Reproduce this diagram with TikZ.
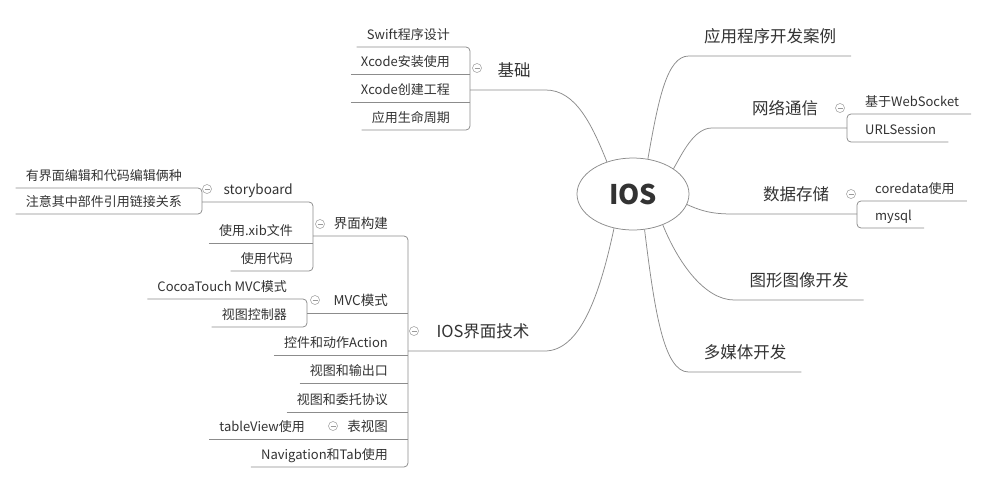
\documentclass[tikz,border=0pt]{standalone}
\usepackage{fontspec}
\setmainfont{Noto Sans CJK SC}
\usetikzlibrary{shapes.geometric}
\definecolor{txc}{HTML}{333333}
\definecolor{lnc}{HTML}{8C8C8C}
\definecolor{fdc}{HTML}{9A9A9A}
\tikzset{
  conn/.style={draw=lnc,line width=0.75pt},
  br/.style={conn,rounded corners=4pt},
  mtopic/.style={font=\fontsize{16.5}{18}\selectfont,text=txc,anchor=south,inner xsep=15pt,inner ysep=13pt,text height=12pt,text depth=0pt},
  lleaf/.style={font=\fontsize{13}{15}\selectfont,text=txc,anchor=south east,inner xsep=10pt,inner ysep=7pt,text height=9.5pt,text depth=0pt},
  mleaf/.style={lleaf,font=\fontsize{13.5}{15}\selectfont},
  rleaf/.style={lleaf,anchor=south west,inner xsep=12pt},
  fold/.style={circle,draw=fdc,line width=0.5pt,minimum size=9pt,inner sep=0pt,path picture={\draw[fdc,line width=0.5pt]([xshift=-2.5pt]path picture bounding box.center)--([xshift=2.5pt]path picture bounding box.center);}},
}
\begin{document}
\begin{tikzpicture}[x=1pt,y=-1pt]
\useasboundingbox[fill=white](0,0)rectangle(989,483);
\node[ellipse,draw=lnc,line width=0.75pt,minimum width=112pt,minimum height=72pt,inner sep=0pt,text=txc,font=\fontsize{27}{30}\selectfont\bfseries](ios)at(633,194){IOS};
\node[mtopic](app)at(770,56){应用程序开发案例};
\node[mtopic](net)at(785,128){网络通信};
\node[mtopic](data)at(796,214){数据存储};
\node[mtopic](graph)at(799,300){图形图像开发};
\node[mtopic](media)at(745,372){多媒体开发};
\coordinate(jNet)at(847,0);
\coordinate(jData)at(857,0);
\coordinate(netc)at(712,128);
\node[rleaf](ws)at(853,114){基于WebSocket};
\node[rleaf](url)at(853,142){URLSession};
\node[rleaf](core)at(863,201){coredata使用};
\node[rleaf](sql)at(863,228){mysql};
\node[fold](fNet)at(840,108){};
\node[fold](fData)at(851,194){};
\draw[conn](ios.67)to[out=80,in=180,out distance=60pt,in distance=22pt](app.south west)--(app.south east);
\draw[conn](ios.32)to[out=60,in=180,out distance=18pt,in distance=18pt](netc)--(net.south-|jNet);
\draw[br](ws.south east)--(ws.south-|jNet)--(url.south-|jNet)--(url.south east);
\draw[conn](ios.-11)to[out=-25,in=180,out distance=25pt,in distance=25pt](data.south west)--(data.south-|jData);
\draw[br](core.south east)--(core.south-|jData)--(sql.south-|jData)--(sql.south east);
\draw[conn](ios.-46)to[out=-68,in=180,out distance=40pt,in distance=30pt](graph.south west)--(graph.south east);
\draw[conn](ios.-72)to[out=-83,in=180,out distance=80pt,in distance=25pt](media.south west)--(media.south east);
\node[mtopic](base)at(514,90){基础};
\coordinate(jBase)at(470,0);
\foreach \n/\y/\s in {swift/47/Swift程序设计,inst/74/Xcode安装使用,proj/102/Xcode创建工程,life/130/应用生命周期}
  \node[lleaf](\n)at(460,\y){\s};
\node[fold](fBase)at(477,68){};
\draw[conn](ios.129)to[out=112,in=0,out distance=40pt,in distance=30pt](base.south east)--(base.south-|jBase);
\draw[br](swift.south west)--(swift.south-|jBase)--(life.south-|jBase)--(life.south west);
\foreach \n in {inst,proj}\draw[conn](\n.south west)--(\n.south-|jBase);
\node[mtopic](ui)at(483,351){IOS界面技术};
\coordinate(jUI)at(408,0);
\coordinate(jBuild)at(313,0);
\coordinate(jStory)at(202,0);
\coordinate(jMVC)at(307,0);
\node[mleaf](build)at(398,236){界面构建};
\node[mleaf](mvc)at(398,313){MVC模式};
\node[lleaf](act)at(398,355){控件和动作Action};
\node[lleaf](outl)at(398,383){视图和输出口};
\node[lleaf](dele)at(398,412){视图和委托协议};
\node[mleaf](table)at(398,439){表视图};
\node[lleaf](nav)at(398,467){Navigation和Tab使用};
\node[mleaf](story)at(303,202){storyboard};
\node[lleaf](xib)at(303,243){使用.xib文件};
\node[lleaf](code)at(303,271){使用代码};
\node[lleaf](edit)at(192,188){有界面编辑和代码编辑俩种};
\node[lleaf](link)at(192,214){注意其中部件引用链接关系};
\node[lleaf](cocoa)at(297,299){CocoaTouch MVC模式};
\node[lleaf](vc)at(297,327){视图控制器};
\node[lleaf](tv)at(315,439){tableView使用};
\node[fold](fUI)at(414,331){};
\node[fold](fBuild)at(320,224){};
\node[fold](fStory)at(207,189){};
\node[fold](fMVC)at(315,300){};
\node[fold](fTable)at(333,426){};
\draw[conn](ios.-119)to[out=-102,in=0,out distance=70pt,in distance=35pt](ui.south east)--(ui.south-|jUI);
\draw[br](build.south-|jBuild)--(build.south-|jUI)--(nav.south-|jUI)--(nav.south west);
\foreach \n in {act,outl,dele}\draw[conn](\n.south west)--(\n.south-|jUI);
\draw[conn](mvc.south-|jMVC)--(mvc.south-|jUI);
\draw[conn](tv.south west)--(table.south-|jUI);
\draw[br](story.south-|jStory)--(story.south-|jBuild)--(code.south-|jBuild)--(code.south west);
\draw[conn](xib.south west)--(xib.south-|jBuild);
\draw[br](edit.south west)--(edit.south-|jStory)--(link.south-|jStory)--(link.south west);
\draw[br](cocoa.south west)--(cocoa.south-|jMVC)--(vc.south-|jMVC)--(vc.south west);
\end{tikzpicture}
\end{document}
